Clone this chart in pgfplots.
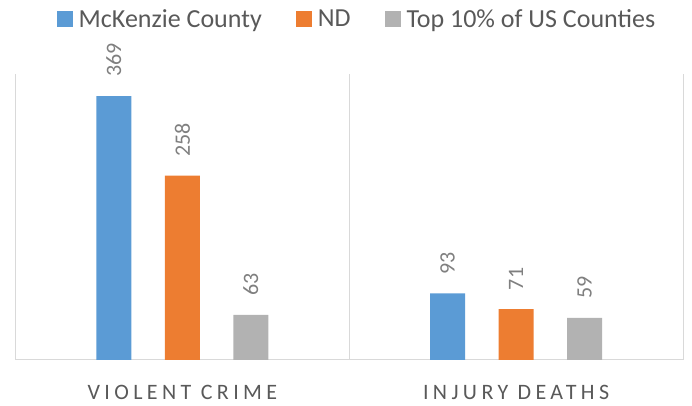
\documentclass[border=0pt]{standalone}
\usepackage{pgfplots}
\pgfplotsset{compat=1.18}
\usepackage{fontspec}
\setmainfont{Carlito}
\newfontfamily\catfont[LetterSpace=20]{Carlito}
\definecolor{cblue}{HTML}{5B9BD5}
\definecolor{corange}{HTML}{ED7D31}
\definecolor{cgray}{HTML}{B2B2B2}
\definecolor{gridc}{HTML}{D9D9D9}
\definecolor{textc}{HTML}{595959}
\definecolor{labc}{HTML}{7F7F7F}
\begin{document}
\begin{tikzpicture}
\begin{axis}[
  width=667.5bp, height=286bp, scale only axis,
  ybar=33.5bp, bar width=35bp,
  xmin=-0.5, xmax=1.5, ymin=0, ymax=400,
  axis x line*=bottom, axis y line=none,
  x axis line style={draw=gridc, line width=1bp, -},
  xtick={0,1}, xticklabels={VIOLENT CRIME, INJURY DEATHS},
  major tick length=0pt,
  xticklabel style={font=\catfont\fontsize{22bp}{26bp}\selectfont, text=textc, anchor=base, yshift=-40bp, inner sep=0pt},
  extra x ticks={-0.5,0.5,1.5}, extra x tick labels={},
  extra x tick style={grid=major, major grid style={draw=gridc, line width=1bp}},
  nodes near coords,
  every node near coord/.append style={rotate=90, anchor=west, font=\fontsize{22bp}{26bp}\selectfont, text=labc, inner ysep=0pt, inner xsep=19bp},
  /pgf/number format/assume math mode=true,
  legend columns=3,
  legend style={at={(rel axis cs:0.5116,1.192)}, anchor=center, draw=none, fill=none,
    font=\fontsize{26bp}{30bp}\selectfont, text=textc,
    /tikz/every odd column/.append style={column sep=4bp},
    /tikz/every even column/.append style={column sep=32bp}},
  legend image code/.code={\fill[#1] (0bp,-8bp) rectangle (16bp,8bp);},
  clip=false,
]
\addplot[fill=cblue, draw=none] coordinates {(0,369) (1,93)};
\addplot[fill=corange, draw=none] coordinates {(0,258) (1,71)};
\addplot[fill=cgray, draw=none] coordinates {(0,63) (1,59)};
\legend{McKenzie County, ND, Top 10\% of US Counties}
\coordinate (A) at (rel axis cs:0,0);
\coordinate (B) at (rel axis cs:1,1);
\end{axis}
\pgfresetboundingbox
\path[use as bounding box] ([shift={(-15.5bp,-46bp)}]A) rectangle ([shift={(9bp,74bp)}]B);
\end{tikzpicture}
\end{document}
